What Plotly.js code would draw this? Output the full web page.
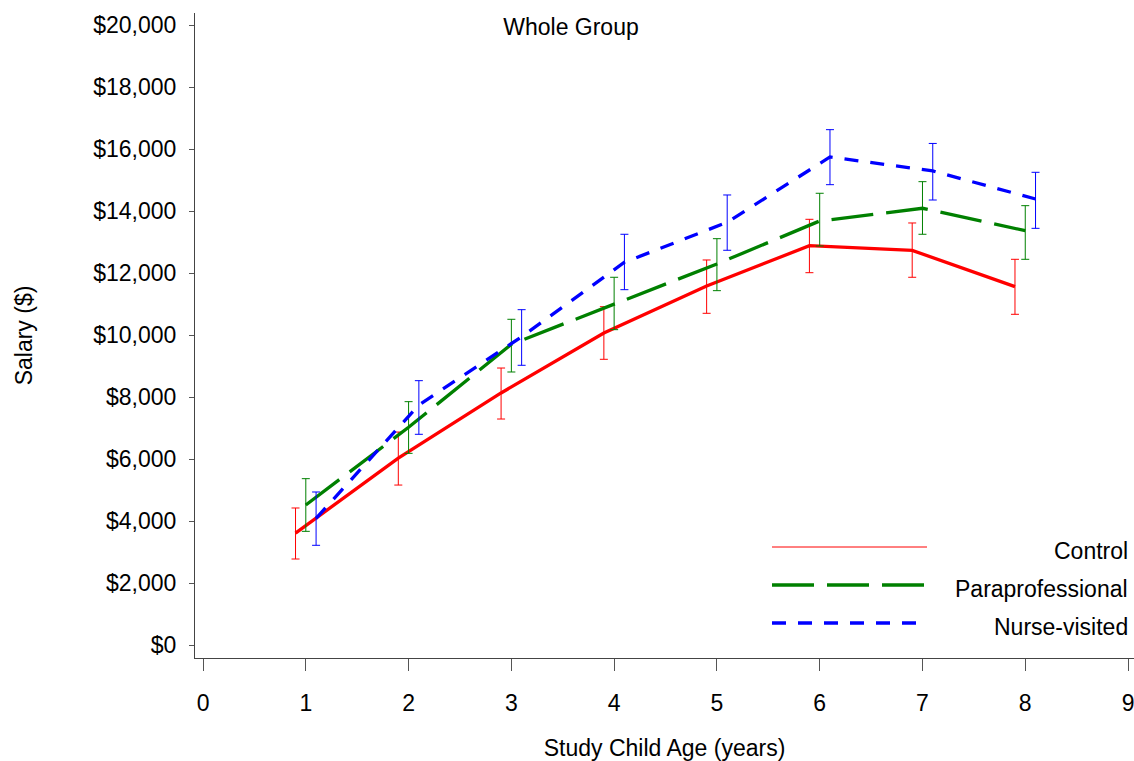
<!DOCTYPE html>
<html>
<head>
<meta charset="utf-8">
<script src="https://cdn.plot.ly/plotly-3.0.1.min.js"></script>
<style>html,body{margin:0;padding:0;background:#fff;}#chart{width:1134px;height:761px;}</style>
</head>
<body>
<div id="chart"></div>
<script>
// ---- data ----
const ages = [1, 2, 3, 4, 5, 6, 7, 8];
const seriesNames = ["Control", "Paraprofessional", "Nurse-visited"];

const control   = [3610, 6030, 8130, 10065, 11580, 12880, 12730, 11560];
const controlHi = [4420, 6870, 8935, 10913, 12420, 13732, 13614, 12442];
const controlLo = [2774, 5160, 7290, 9216, 10700, 12010, 11862, 10668];

const para   = [4516, 7022, 9700, 11000, 12290, 13678, 14088, 13366];
const paraHi = [5366, 7850, 10507, 11862, 13107, 14572, 14946, 14172];
const paraLo = [3667, 6183, 8807, 10172, 11430, 12872, 13249, 12442];

const nurse   = [4087, 7742, 9945, 12346, 13636, 15743, 15291, 14387];
const nurseHi = [4936, 8527, 10817, 13249, 14517, 16624, 16179, 15248];
const nurseLo = [3216, 6797, 9023, 11462, 12733, 14849, 14355, 13441];

const xTicks = [0, 1, 2, 3, 4, 5, 6, 7, 8, 9];
const yTicks = [0, 2000, 4000, 6000, 8000, 10000, 12000, 14000, 16000, 18000, 20000];
const yTickText = yTicks.map(v => "$" + v.toLocaleString("en-US"));

// horizontal dodge of each group around the age
const dodge = [-0.1, 0, 0.1];

// ---- styles ----
const colors = ["rgb(255,0,0)", "rgb(0,128,0)", "rgb(0,0,255)"];
const dashes = ["solid", "42px,13px", "14px,12px"];
const FONT = "Liberation Sans, Arial, sans-serif";
const FS = 23;

function makeTrace(i, mid, hi, lo) {
  return {
    type: "scatter",
    mode: "lines",
    name: seriesNames[i],
    x: ages.map(a => a + dodge[i]),
    y: mid,
    line: {color: colors[i], width: 3.3, dash: dashes[i]},
    error_y: {
      type: "data",
      symmetric: false,
      array: hi.map((h, k) => h - mid[k]),
      arrayminus: lo.map((l, k) => mid[k] - l),
      color: colors[i],
      thickness: 1,
      width: 4
    },
    showlegend: false,
    hoverinfo: "x+y+name"
  };
}

const data = [
  makeTrace(0, control, controlHi, controlLo),
  makeTrace(1, para, paraHi, paraLo),
  makeTrace(2, nurse, nurseHi, nurseLo)
];

// manual legend (long line samples like the original)
const W = 1134, H = 761;
const M = {l: 195, r: 0, t: 13, b: 103};
const pw = W - M.l - M.r, ph = H - M.t - M.b;
const px = v => (v - M.l) / pw;
const py = v => (H - M.b - v) / ph;
const legRows = [547, 585, 623];
const legWidths = [1, 3.3, 3.3];
const shapes = legRows.map((r, i) => ({
  type: "line", xref: "paper", yref: "paper",
  x0: px(772), x1: px(927), y0: py(r), y1: py(r),
  line: {color: colors[i], width: legWidths[i], dash: dashes[i]}
}));
const annotations = legRows.map((r, i) => ({
  xref: "paper", yref: "paper", x: px(1130), y: py(r + 4),
  xanchor: "right", yanchor: "middle", showarrow: false,
  text: seriesNames[i], font: {family: FONT, size: FS, color: "#000"}
}));

const layout = {
  width: W, height: H,
  margin: M,
  paper_bgcolor: "#fff", plot_bgcolor: "#fff",
  font: {family: FONT, size: FS, color: "#000"},
  showlegend: false,
  title: {
    text: "Whole Group",
    x: 571 / W, xref: "container", xanchor: "center",
    y: 1 - 27 / H, yref: "container", yanchor: "middle",
    font: {family: FONT, size: FS, color: "#000"}
  },
  xaxis: {
    range: [-0.078, 9.058],
    tickvals: xTicks,
    ticks: "outside", ticklen: 12, tickwidth: 1, tickcolor: "#555",
    showline: true, linecolor: "#444", linewidth: 1,
    showgrid: false, zeroline: false,
    ticklabelstandoff: 12,
    ticklabeloverflow: "allow",
    tickfont: {family: FONT, size: FS, color: "#000"},
    title: {text: "Study Child Age (years)", standoff: 28, font: {family: FONT, size: FS, color: "#000"}}
  },
  yaxis: {
    range: [-419, 20387],
    tickvals: yTicks,
    ticktext: yTickText,
    ticks: "outside", ticklen: 5, tickwidth: 1, tickcolor: "#555",
    showline: true, linecolor: "#444", linewidth: 1,
    showgrid: false, zeroline: false,
    ticklabelstandoff: 8,
    tickfont: {family: FONT, size: FS, color: "#000"},
    title: {text: "Salary ($)", standoff: 54, font: {family: FONT, size: FS, color: "#000"}}
  },
  shapes: shapes,
  annotations: annotations
};

Plotly.newPlot("chart", data, layout, {displayModeBar: false, staticPlot: true});
</script>
</body>
</html>
